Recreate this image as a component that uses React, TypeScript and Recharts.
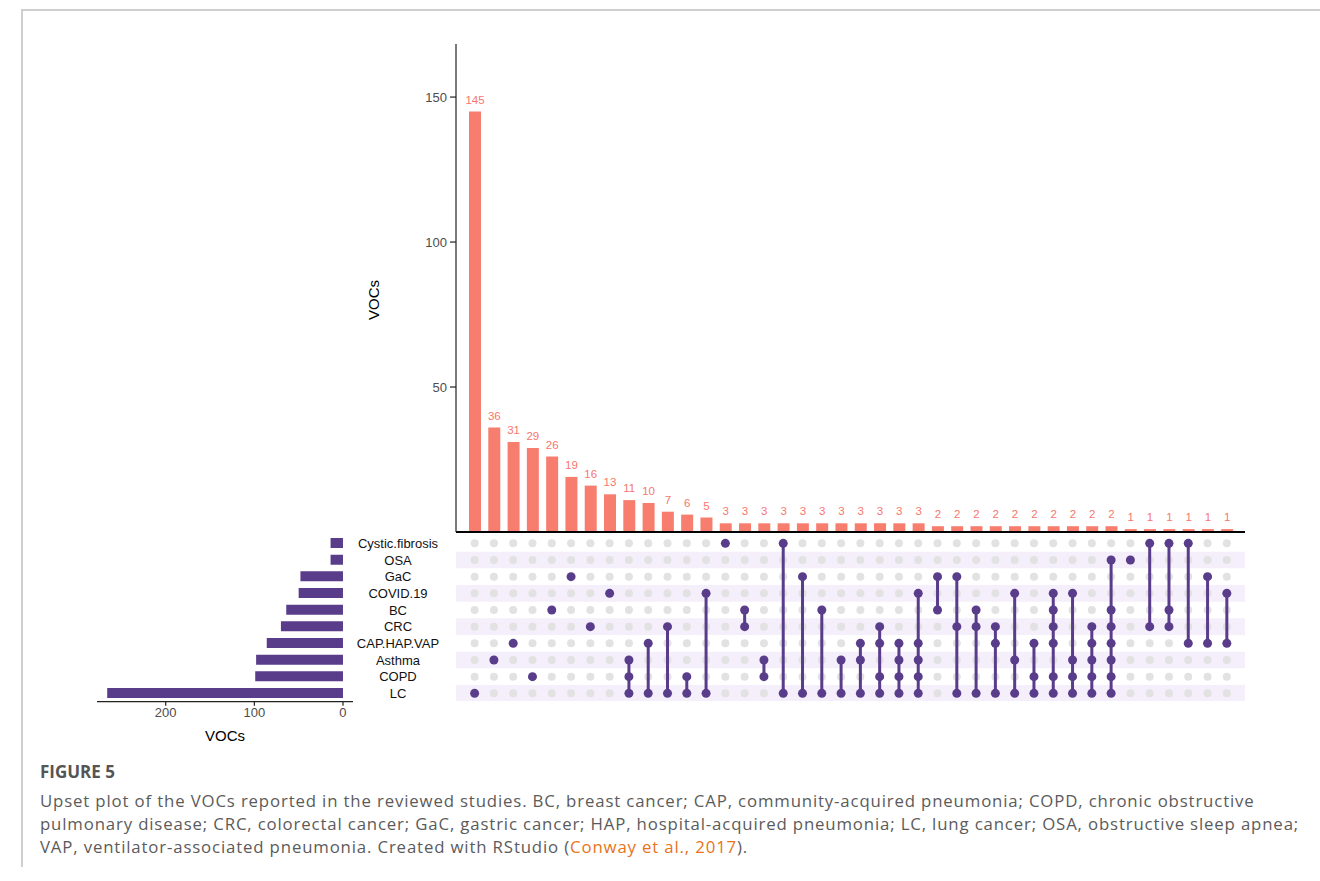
import React from 'react';
import { BarChart, Bar, XAxis, YAxis, LabelList, ScatterChart, Scatter, ReferenceArea } from 'recharts';

// ---------- data ----------
const setNames = ['Cystic.fibrosis', 'OSA', 'GaC', 'COVID.19', 'BC', 'CRC', 'CAP.HAP.VAP', 'Asthma', 'COPD', 'LC'];
const setSizes = [14, 14, 48, 50, 64, 70, 86, 98, 99, 266];

const intersectionSizes = [
  145, 36, 31, 29, 26, 19, 16, 13, 11, 10, 7, 6, 5,
  3, 3, 3, 3, 3, 3, 3, 3, 3, 3, 3,
  2, 2, 2, 2, 2, 2, 2, 2, 2, 2,
  1, 1, 1, 1, 1, 1,
];

const intersectionSets: string[][] = [
  ['LC'],
  ['Asthma'],
  ['CAP.HAP.VAP'],
  ['COPD'],
  ['BC'],
  ['GaC'],
  ['CRC'],
  ['COVID.19'],
  ['Asthma', 'COPD', 'LC'],
  ['CAP.HAP.VAP', 'LC'],
  ['CRC', 'LC'],
  ['COPD', 'LC'],
  ['COVID.19', 'LC'],
  ['Cystic.fibrosis'],
  ['BC', 'CRC'],
  ['Asthma', 'COPD'],
  ['Cystic.fibrosis', 'LC'],
  ['GaC', 'LC'],
  ['BC', 'LC'],
  ['Asthma', 'LC'],
  ['CAP.HAP.VAP', 'Asthma', 'LC'],
  ['CRC', 'CAP.HAP.VAP', 'COPD', 'LC'],
  ['CAP.HAP.VAP', 'Asthma', 'COPD', 'LC'],
  ['COVID.19', 'CAP.HAP.VAP', 'Asthma', 'COPD', 'LC'],
  ['GaC', 'BC'],
  ['GaC', 'CRC', 'LC'],
  ['BC', 'CRC', 'LC'],
  ['CRC', 'CAP.HAP.VAP', 'LC'],
  ['COVID.19', 'Asthma', 'LC'],
  ['CAP.HAP.VAP', 'COPD', 'LC'],
  ['COVID.19', 'BC', 'CRC', 'CAP.HAP.VAP', 'COPD', 'LC'],
  ['COVID.19', 'Asthma', 'COPD', 'LC'],
  ['CRC', 'CAP.HAP.VAP', 'Asthma', 'COPD', 'LC'],
  ['OSA', 'BC', 'CRC', 'CAP.HAP.VAP', 'Asthma', 'COPD', 'LC'],
  ['OSA'],
  ['Cystic.fibrosis', 'CRC'],
  ['Cystic.fibrosis', 'BC', 'CRC'],
  ['Cystic.fibrosis', 'CAP.HAP.VAP'],
  ['GaC', 'CAP.HAP.VAP'],
  ['COVID.19', 'CAP.HAP.VAP'],
];

const topTicks = [0, 50, 100, 150];
const sideTicks = [0, 100, 200];
const axisTitle = 'VOCs';

const captionTitle = 'FIGURE 5';
const captionLines = [
  'Upset plot of the VOCs reported in the reviewed studies. BC, breast cancer; CAP, community-acquired pneumonia; COPD, chronic obstructive',
  'pulmonary disease; CRC, colorectal cancer; GaC, gastric cancer; HAP, hospital-acquired pneumonia; LC, lung cancer; OSA, obstructive sleep apnea;',
  'VAP, ventilator-associated pneumonia. Created with RStudio (',
];
const captionLink = 'Conway et al., 2017';
const captionEnd = ').';

// ---------- derived tables ----------
const barData = intersectionSizes.map((v, i) => ({ name: `I${i + 1}`, value: v }));
const setData = setNames.map((n, i) => ({ name: n, size: setSizes[i] }));
const gridData: { x: number; y: number }[] = [];
intersectionSizes.forEach((_, i) => setNames.forEach((_, r) => gridData.push({ x: i, y: r })));
const columnPoints = intersectionSets.map((sets, i) =>
  sets.map((s) => ({ x: i, y: setNames.indexOf(s) })).sort((a, b) => a.y - b.y)
);
const stripeRows = setNames.map((_, r) => r).filter((r) => r % 2 === 1);

// ---------- styles ----------
const PURPLE = '#593d8b';
const SALMON = '#f77e6f';
const GREY_DOT = '#e2e2e2';
const STRIPE = '#f4effa';
const FONT = '"Liberation Sans", Arial, Helvetica, sans-serif';

const XMIN = -0.964;
const XMAX = 39.94;

const makeDot = (fill: string, r: number) => (props: any) => (
  <circle cx={props.cx} cy={props.cy} r={r} fill={fill} />
);

const SetTick = (props: any) => {
  const { x, y, payload } = props;
  return (
    <text x={x + 37} y={y} dy={4.5} textAnchor="middle" fontSize={13} fill="#111" fontFamily={FONT}>
      {payload.value}
    </text>
  );
};

const TopYLabel = (props: any) => {
  const vb = props.viewBox || {};
  const cx = vb.x + 7;
  const cy = vb.y + vb.height / 2 + 12;
  return (
    <text x={cx} y={cy} transform={`rotate(-90, ${cx}, ${cy})`} textAnchor="middle" dominantBaseline="central" fontSize={15} fill="#000" fontFamily={FONT}>
      {axisTitle}
    </text>
  );
};

export default function App() {
  return (
    <div style={{ position: 'absolute', left: 0, top: 0, width: 1320, height: 881, background: '#fff', overflow: 'hidden', fontFamily: FONT }}>
      {/* frame */}
      <div style={{ position: 'absolute', left: 21, top: 9, width: 1299, height: 1.5, background: '#cfcfcf' }} />
      <div style={{ position: 'absolute', left: 21, top: 9, width: 1.5, height: 858, background: '#cfcfcf' }} />

      {/* intersection size bars */}
      <div style={{ position: 'absolute', left: 366, top: 44 }}>
        <BarChart width={879} height={489} data={barData} margin={{ top: 0, right: 0, bottom: 0, left: 0 }} barCategoryGap={0}>
          <XAxis dataKey="name" type="category" height={1} tick={false} tickLine={false} axisLine={{ stroke: '#000', strokeWidth: 2 }} padding={{ left: 9, right: 8.5 }} />
          <YAxis
            type="number"
            domain={[0, 168.3]}
            ticks={topTicks}
            width={90}
            allowDataOverflow
            tick={{ fontSize: 13, fill: '#4d4d4d', fontFamily: FONT }}
            tickSize={6}
            tickMargin={3}
            axisLine={{ stroke: '#222', strokeWidth: 1.2 }}
            tickLine={{ stroke: '#222', strokeWidth: 1.2 }}
            label={<TopYLabel />}
          />
          <Bar dataKey="value" fill={SALMON} barSize={12} isAnimationActive={false}>
            <LabelList dataKey="value" position="top" offset={8} fill="#f8766d" fontSize={11.5} fontFamily={FONT} />
          </Bar>
        </BarChart>
      </div>

      {/* matrix */}
      <div style={{ position: 'absolute', left: 456, top: 534.6 }}>
        <ScatterChart width={789} height={166.7} margin={{ top: 0, right: 0, bottom: 0, left: 0 }}>
          <XAxis type="number" dataKey="x" domain={[XMIN, XMAX]} hide allowDataOverflow />
          <YAxis type="number" dataKey="y" domain={[-0.5, 9.5]} reversed hide allowDataOverflow />
          {stripeRows.map((r) => (
            <ReferenceArea key={`s${r}`} x1={XMIN} x2={XMAX} y1={r - 0.5} y2={r + 0.5} fill={STRIPE} fillOpacity={1} stroke="none" ifOverflow="visible" />
          ))}
          <Scatter data={gridData} shape={makeDot(GREY_DOT, 4)} isAnimationActive={false} />
          {columnPoints.map((pts, i) => (
            <Scatter
              key={`c${i}`}
              data={pts}
              line={{ stroke: PURPLE, strokeWidth: 3 }}
              shape={makeDot(PURPLE, 4.5)}
              isAnimationActive={false}
            />
          ))}
        </ScatterChart>
      </div>

      {/* set size bars */}
      <div style={{ position: 'absolute', left: 97, top: 534.6 }}>
        <BarChart layout="vertical" width={356} height={211.7} data={setData} margin={{ top: 0, right: 0, bottom: 0, left: 0 }}>
          <XAxis
            type="number"
            domain={[-11.3, 277.5]}
            reversed
            allowDataOverflow
            ticks={sideTicks}
            height={45}
            tickSize={4}
            tickMargin={2}
            tick={{ fontSize: 13, fill: '#4d4d4d', fontFamily: FONT }}
            axisLine={{ stroke: '#222', strokeWidth: 1.2 }}
            tickLine={{ stroke: '#222', strokeWidth: 1.2 }}
            label={{ value: axisTitle, position: 'insideBottom', offset: 6, fontSize: 15, fill: '#000', fontFamily: FONT }}
          />
          <YAxis type="category" dataKey="name" orientation="right" width={100} axisLine={false} tickLine={false} tick={<SetTick />} interval={0} />
          <Bar dataKey="size" fill={PURPLE} barSize={10} isAnimationActive={false} />
        </BarChart>
      </div>

      {/* caption */}
      <div style={{ position: 'absolute', left: 40, top: 760, fontFamily: '"Open Sans", sans-serif', color: '#5b5b5b' }}>
        <div style={{ fontWeight: 700, fontSize: 17, lineHeight: '24px', color: '#555' }}>{captionTitle}</div>
        <div style={{ fontSize: 16.8, lineHeight: '23px', marginTop: 5, whiteSpace: 'nowrap', letterSpacing: '0.85px' }}>
          <div>{captionLines[0]}</div>
          <div>{captionLines[1]}</div>
          <div>
            {captionLines[2]}
            <span style={{ color: '#e8731a' }}>{captionLink}</span>
            {captionEnd}
          </div>
        </div>
      </div>
    </div>
  );
}
